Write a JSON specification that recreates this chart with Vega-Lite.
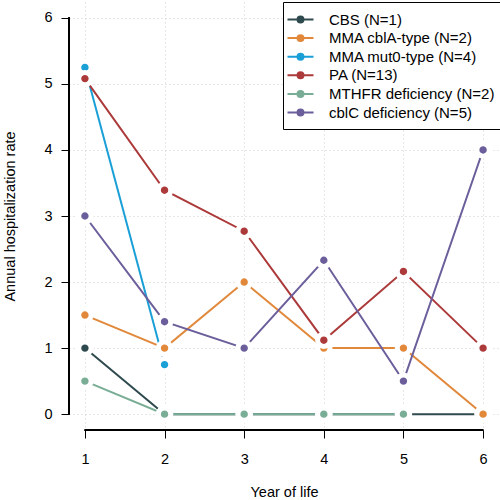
{
  "$schema": "https://vega.github.io/schema/vega-lite/v6.json",
  "autosize": {"type": "none"},
  "padding": {"left": 69, "top": 2, "right": 1, "bottom": 70},
  "width": 430,
  "height": 428,
  "background": "white",
  "config": {
    "view": {"stroke": null},
    "font": "Liberation Sans",
    "axis": {
      "labelFont": "Liberation Sans",
      "titleFont": "Liberation Sans",
      "labelFontSize": 14.5,
      "titleFontSize": 14.5,
      "titleFontWeight": "normal",
      "labelColor": "black",
      "titleColor": "black",
      "tickColor": "black",
      "tickSize": 8,
      "tickWidth": 1,
      "domain": false,
      "grid": true,
      "gridColor": "#cfcfcf",
      "gridDash": [1, 3],
      "gridWidth": 1
    }
  },
  "data": {
    "values": [
      {"series": "CBS (N=1)", "year": 1, "rate": 1},
      {"series": "CBS (N=1)", "year": 2, "rate": 0},
      {"series": "CBS (N=1)", "year": 3, "rate": 0},
      {"series": "CBS (N=1)", "year": 4, "rate": 0},
      {"series": "CBS (N=1)", "year": 5, "rate": 0},
      {"series": "CBS (N=1)", "year": 6, "rate": 0},
      {"series": "MMA cblA-type (N=2)", "year": 1, "rate": 1.5},
      {"series": "MMA cblA-type (N=2)", "year": 2, "rate": 1},
      {"series": "MMA cblA-type (N=2)", "year": 3, "rate": 2},
      {"series": "MMA cblA-type (N=2)", "year": 4, "rate": 1},
      {"series": "MMA cblA-type (N=2)", "year": 5, "rate": 1},
      {"series": "MMA cblA-type (N=2)", "year": 6, "rate": 0},
      {"series": "MMA mut0-type (N=4)", "year": 1, "rate": 5.25},
      {"series": "MMA mut0-type (N=4)", "year": 2, "rate": 0.75},
      {"series": "PA (N=13)", "year": 1, "rate": 5.08},
      {"series": "PA (N=13)", "year": 2, "rate": 3.39},
      {"series": "PA (N=13)", "year": 3, "rate": 2.77},
      {"series": "PA (N=13)", "year": 4, "rate": 1.12},
      {"series": "PA (N=13)", "year": 5, "rate": 2.16},
      {"series": "PA (N=13)", "year": 6, "rate": 1},
      {"series": "MTHFR deficiency (N=2)", "year": 1, "rate": 0.5},
      {"series": "MTHFR deficiency (N=2)", "year": 2, "rate": 0},
      {"series": "MTHFR deficiency (N=2)", "year": 3, "rate": 0},
      {"series": "MTHFR deficiency (N=2)", "year": 4, "rate": 0},
      {"series": "MTHFR deficiency (N=2)", "year": 5, "rate": 0},
      {"series": "cblC deficiency (N=5)", "year": 1, "rate": 3},
      {"series": "cblC deficiency (N=5)", "year": 2, "rate": 1.4},
      {"series": "cblC deficiency (N=5)", "year": 3, "rate": 1},
      {"series": "cblC deficiency (N=5)", "year": 4, "rate": 2.33},
      {"series": "cblC deficiency (N=5)", "year": 5, "rate": 0.5},
      {"series": "cblC deficiency (N=5)", "year": 6, "rate": 4}
    ]
  },
  "layer": [
    {
      "mark": {"type": "rule", "color": "black", "strokeWidth": 1},
      "encoding": {
        "x": {"datum": 1, "type": "quantitative", "scale": {"domain": [0.8, 6.2], "nice": false, "zero": false},
          "axis": {"values": [1, 2, 3, 4, 5, 6], "format": "d", "title": "Year of life", "labelPadding": 14, "titlePadding": 20, "labelAngle": 0}},
        "x2": {"datum": 6},
        "y": {"datum": -0.24, "type": "quantitative", "scale": {"domain": [-0.24, 6.24], "nice": false, "zero": false},
          "axis": {"values": [0, 1, 2, 3, 4, 5, 6], "format": "d", "title": "Annual hospitalization rate", "labelPadding": 9, "titlePadding": 26}}
      }
    },
    {
      "mark": {"type": "rule", "color": "black", "strokeWidth": 1},
      "encoding": {
        "x": {"datum": 0.8, "type": "quantitative"},
        "y": {"datum": 0, "type": "quantitative"},
        "y2": {"datum": 6}
      }
    },
    {
      "mark": {"type": "line", "strokeWidth": 2},
      "encoding": {
        "x": {"field": "year", "type": "quantitative"},
        "y": {"field": "rate", "type": "quantitative"},
        "color": {
          "field": "series", "type": "nominal",
          "scale": {
            "domain": ["CBS (N=1)", "MMA cblA-type (N=2)", "MMA mut0-type (N=4)", "PA (N=13)", "MTHFR deficiency (N=2)", "cblC deficiency (N=5)"],
            "range": ["#2f4a4e", "#e1883a", "#1a9fd6", "#ad3a3a", "#79ad95", "#6b5e9b"]
          },
          "legend": {
            "title": null,
            "orient": "none",
            "legendX": 214,
            "legendY": 0,
            "strokeColor": "black",
            "fillColor": "white",
            "cornerRadius": 0,
            "padding": 8,
            "labelFont": "Liberation Sans",
            "labelFontSize": 15,
            "labelLimit": 400,
            "labelColor": "black",
            "labelOffset": 19,
            "symbolType": "M-1.53,0L1.53,0M-0.35,0A0.35,0.35,0,1,1,0.35,0A0.35,0.35,0,1,1,-0.35,0Z",
            "symbolSize": 289,
            "symbolStrokeWidth": 2,
            "rowPadding": 0.6,
            "symbolOpacity": 1,
            "encode": {
              "symbols": {
                "update": {
                  "fill": {"scale": "color", "field": "value"},
                  "stroke": {"scale": "color", "field": "value"},
                  "strokeWidth": {"value": 2},
                  "opacity": {"value": 1}
                }
              }
            }
          }
        }
      }
    },
    {
      "mark": {"type": "point", "filled": true, "size": 154, "opacity": 1, "stroke": "white", "strokeWidth": 5, "strokeOpacity": 1},
      "encoding": {
        "x": {"field": "year", "type": "quantitative"},
        "y": {"field": "rate", "type": "quantitative"},
        "color": {"field": "series", "type": "nominal"}
      }
    }
  ]
}
